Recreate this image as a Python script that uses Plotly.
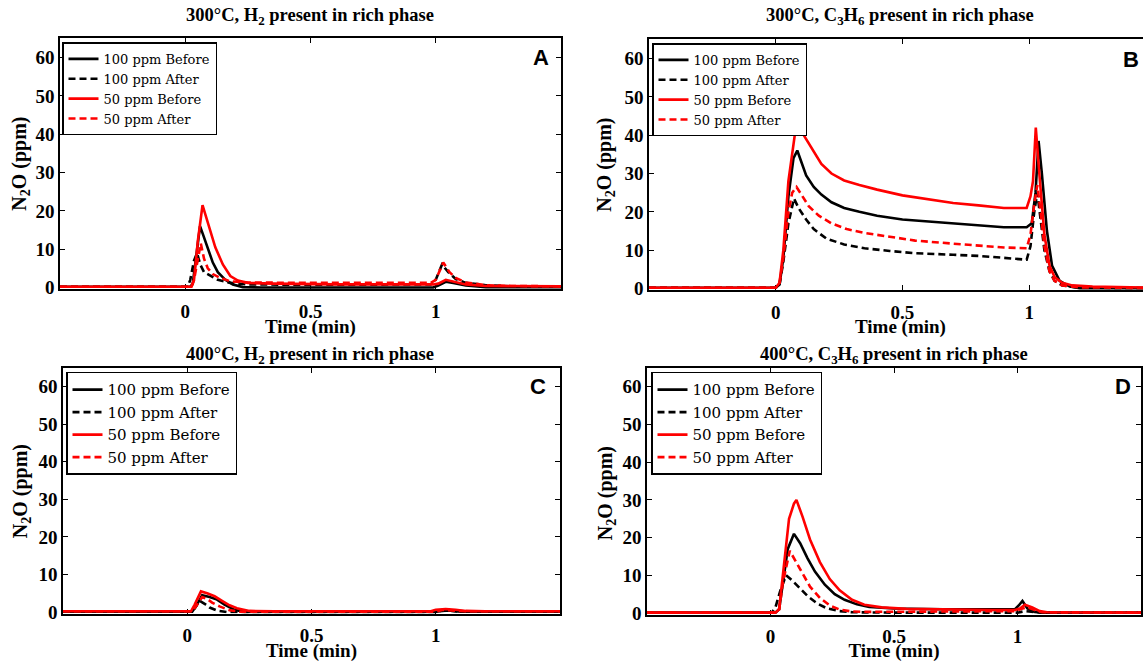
import plotly.graph_objects as go

# ---------------- Data ----------------
# Panel A: 300°C, H2 present in rich phase
tA_100b = [-0.5, 0.02, 0.03, 0.045, 0.059, 0.07, 0.09, 0.11, 0.13, 0.16, 0.19, 0.23, 0.3, 0.6, 0.99, 1.01, 1.04, 1.07, 1.12, 1.2, 1.5]
vA_100b = [0.2, 0.2, 1.0, 9.0, 16.0, 14.0, 10.0, 6.5, 4.0, 2.0, 0.8, 0.1, 0.0, 0.0, 0.0, 0.5, 1.5, 1.2, 0.5, 0.1, 0.1]
tA_100a = [-0.5, 0.01, 0.02, 0.035, 0.047, 0.06, 0.075, 0.1, 0.13, 0.18, 0.25, 0.5, 0.8, 0.98, 1.0, 1.025, 1.05, 1.08, 1.12, 1.2, 1.3, 1.5]
vA_100a = [0.2, 0.2, 2.0, 7.0, 9.0, 6.0, 4.0, 3.0, 2.0, 1.2, 0.8, 0.7, 0.7, 0.8, 2.0, 6.0, 4.0, 2.2, 1.2, 0.6, 0.3, 0.2]
tA_50b = [-0.5, 0.025, 0.035, 0.05, 0.069, 0.085, 0.1, 0.12, 0.15, 0.18, 0.21, 0.25, 0.35, 0.6, 0.99, 1.01, 1.04, 1.07, 1.12, 1.2, 1.5]
vA_50b = [0.2, 0.2, 2.0, 12.0, 21.5, 18.0, 15.0, 10.5, 6.0, 3.0, 1.8, 1.2, 1.0, 0.8, 0.8, 1.0, 2.0, 1.6, 0.8, 0.4, 0.3]
tA_50a = [-0.5, 0.025, 0.035, 0.048, 0.062, 0.075, 0.09, 0.11, 0.14, 0.18, 0.25, 0.5, 0.8, 0.98, 1.0, 1.03, 1.055, 1.08, 1.12, 1.2, 1.3, 1.5]
vA_50a = [0.2, 0.2, 2.0, 7.0, 11.5, 7.5, 5.0, 3.5, 2.5, 1.6, 1.3, 1.2, 1.2, 1.2, 2.0, 6.5, 4.0, 2.5, 1.3, 0.6, 0.4, 0.3]

# Panel B: 300°C, C3H6 present in rich phase
tB_100b = [-0.5, 0.0, 0.015, 0.03, 0.05, 0.07, 0.085, 0.1, 0.12, 0.15, 0.18, 0.22, 0.27, 0.33, 0.4, 0.5, 0.6, 0.7, 0.8, 0.9, 0.99, 1.01, 1.025, 1.037, 1.05, 1.07, 1.09, 1.12, 1.16, 1.2, 1.5]
vB_100b = [0.2, 0.2, 1.0, 8.0, 24.0, 34.0, 36.0, 33.0, 29.5, 26.5, 24.5, 22.5, 21.0, 20.0, 19.0, 18.0, 17.5, 17.0, 16.5, 16.0, 16.0, 17.0, 25.0, 38.5, 30.0, 15.0, 6.0, 2.0, 0.5, 0.1, 0.1]
tB_100a = [-0.5, 0.0, 0.015, 0.03, 0.05, 0.072, 0.09, 0.12, 0.15, 0.2, 0.27, 0.35, 0.45, 0.55, 0.7, 0.8, 0.9, 0.99, 1.005, 1.02, 1.032, 1.045, 1.06, 1.08, 1.1, 1.13, 1.2, 1.5]
vB_100a = [0.2, 0.2, 1.0, 7.0, 17.0, 23.5, 21.0, 18.0, 15.5, 13.0, 11.5, 10.5, 9.8, 9.2, 8.8, 8.5, 8.0, 7.5, 11.0, 20.0, 25.0, 18.0, 10.0, 4.5, 2.0, 0.8, 0.2, 0.1]
tB_50b = [-0.5, 0.0, 0.015, 0.03, 0.05, 0.075, 0.097, 0.12, 0.15, 0.18, 0.22, 0.27, 0.33, 0.4, 0.5, 0.6, 0.7, 0.8, 0.9, 0.99, 1.005, 1.015, 1.026, 1.04, 1.06, 1.08, 1.1, 1.13, 1.17, 1.25, 1.35, 1.5]
vB_50b = [0.2, 0.2, 1.5, 10.0, 28.0, 40.0, 41.5, 39.0, 35.5, 32.5, 30.0, 28.2, 27.0, 25.8, 24.3, 23.3, 22.3, 21.7, 21.0, 21.0, 24.0, 28.0, 42.0, 30.0, 14.0, 6.0, 3.0, 1.5, 0.8, 0.5, 0.3, 0.2]
tB_50a = [-0.5, 0.0, 0.015, 0.03, 0.05, 0.065, 0.082, 0.1, 0.13, 0.17, 0.22, 0.28, 0.35, 0.45, 0.55, 0.7, 0.8, 0.9, 0.99, 1.005, 1.02, 1.032, 1.045, 1.06, 1.08, 1.1, 1.13, 1.2, 1.5]
vB_50a = [0.2, 0.2, 1.5, 8.0, 20.0, 25.0, 26.5, 24.5, 21.5, 19.0, 17.0, 15.5, 14.5, 13.5, 12.5, 11.7, 11.2, 10.7, 10.5, 14.0, 22.0, 27.0, 20.0, 11.0, 4.5, 2.0, 0.8, 0.3, 0.1]

# Panel C: 400°C, H2 present in rich phase
tC_100b = [-0.5, 0.02, 0.035, 0.06, 0.09, 0.12, 0.15, 0.19, 0.23, 0.5, 1.0, 1.02, 1.05, 1.1, 1.5]
vC_100b = [0.1, 0.1, 1.5, 4.5, 4.0, 3.3, 2.0, 0.6, 0.0, 0.0, 0.0, 0.3, 0.4, 0.1, 0.1]
tC_100a = [-0.5, 0.02, 0.035, 0.05, 0.07, 0.09, 0.12, 0.16, 0.5, 1.0, 1.02, 1.05, 1.1, 1.5]
vC_100a = [0.1, 0.1, 1.5, 3.0, 2.2, 1.2, 0.4, 0.0, 0.0, 0.0, 0.3, 0.4, 0.1, 0.1]
tC_50b = [-0.5, 0.015, 0.03, 0.055, 0.08, 0.11, 0.14, 0.17, 0.2, 0.25, 0.35, 0.7, 0.98, 1.0, 1.04, 1.08, 1.12, 1.2, 1.5]
vC_50b = [0.2, 0.2, 2.0, 5.5, 5.0, 4.2, 3.0, 1.8, 1.0, 0.3, 0.2, 0.2, 0.2, 0.6, 0.8, 0.6, 0.3, 0.2, 0.2]
tC_50a = [-0.5, 0.02, 0.035, 0.06, 0.08, 0.1, 0.13, 0.17, 0.21, 0.5, 1.0, 1.03, 1.06, 1.12, 1.5]
vC_50a = [0.2, 0.2, 1.5, 4.0, 3.5, 2.5, 1.5, 0.5, 0.1, 0.1, 0.1, 0.6, 0.5, 0.2, 0.2]

# Panel D: 400°C, C3H6 present in rich phase
tD_100b = [-0.5, 0.02, 0.035, 0.05, 0.07, 0.095, 0.12, 0.15, 0.18, 0.22, 0.26, 0.3, 0.35, 0.4, 0.5, 0.7, 0.9, 0.99, 1.005, 1.02, 1.04, 1.07, 1.1, 1.5]
vD_100b = [0.1, 0.1, 1.0, 8.0, 17.0, 21.0, 18.5, 14.5, 11.0, 7.5, 5.0, 3.5, 2.3, 1.6, 1.2, 1.0, 1.0, 1.0, 2.0, 3.2, 1.2, 0.3, 0.1, 0.1]
tD_100a = [-0.5, 0.005, 0.02, 0.04, 0.063, 0.09, 0.12, 0.15, 0.19, 0.23, 0.28, 0.33, 0.5, 0.8, 1.0, 1.03, 1.06, 1.1, 1.5]
vD_100a = [0.1, 0.1, 1.5, 6.0, 10.0, 8.5, 6.5, 4.5, 2.5, 1.2, 0.5, 0.2, 0.1, 0.1, 0.1, 0.5, 0.3, 0.1, 0.1]
tD_50b = [-0.5, 0.02, 0.035, 0.05, 0.075, 0.095, 0.105, 0.13, 0.16, 0.2, 0.24, 0.28, 0.33, 0.38, 0.45, 0.55, 0.7, 0.9, 0.99, 1.01, 1.03, 1.06, 1.09, 1.12, 1.5]
vD_50b = [0.1, 0.1, 1.0, 10.0, 25.0, 29.0, 30.0, 25.5, 19.5, 13.5, 9.0, 6.0, 3.5, 2.2, 1.5, 1.1, 0.9, 0.8, 0.8, 1.2, 2.2, 1.5, 0.5, 0.2, 0.1]
tD_50a = [-0.5, 0.02, 0.035, 0.05, 0.078, 0.1, 0.13, 0.16, 0.2, 0.24, 0.28, 0.33, 0.4, 0.6, 0.9, 0.99, 1.02, 1.04, 1.07, 1.1, 1.5]
vD_50a = [0.1, 0.1, 1.0, 8.0, 16.5, 14.0, 10.5, 7.0, 4.0, 2.0, 0.9, 0.4, 0.3, 0.4, 0.5, 0.5, 1.2, 1.5, 0.8, 0.2, 0.1]

series_names = ["100 ppm Before", "100 ppm After", "50 ppm Before", "50 ppm After"]
series_colors = ["black", "black", "#ff0000", "#ff0000"]
series_dash = ["solid", "7px,4px", "solid", "7px,4px"]

panel_titles = [
    "300°C, H<sub>2</sub> present in rich phase",
    "300°C, C<sub>3</sub>H<sub>6</sub> present in rich phase",
    "400°C, H<sub>2</sub> present in rich phase",
    "400°C, C<sub>3</sub>H<sub>6</sub> present in rich phase",
]
panel_letters = ["A", "B", "C", "D"]
x_tickvals = [0, 0.5, 1]
x_ticktext = ["0", "0.5", "1"]
y_tickvals = [0, 10, 20, 30, 40, 50, 60]
y_ticktext = ["0", "10", "20", "30", "40", "50", "60"]
x_title = "Time (min)"
y_title = "N<sub>2</sub>O (ppm)"

panel_data = [
    [(tA_100b, vA_100b), (tA_100a, vA_100a), (tA_50b, vA_50b), (tA_50a, vA_50a)],
    [(tB_100b, vB_100b), (tB_100a, vB_100a), (tB_50b, vB_50b), (tB_50a, vB_50a)],
    [(tC_100b, vC_100b), (tC_100a, vC_100a), (tC_50b, vC_50b), (tC_50a, vC_50a)],
    [(tD_100b, vD_100b), (tD_100a, vD_100a), (tD_50b, vD_50b), (tD_50a, vD_50a)],
]

# ---------------- Layout geometry (pixels) ----------------
W, H = 1143, 662
# left, right, top, bottom in pixels
boxes = [(60, 561, 39, 293), (649, 1143, 40, 294), (63, 560, 373, 622), (647, 1141, 373, 623)]
x_ranges = [[-0.5, 1.5], [-0.5, 1.449], [-0.5, 1.5], [-0.5, 1.5]]
y_range = [-0.4, 65]
legend_pos = [(62, 43), (652, 44), (66, 377), (651, 377)]
legend_font = [13, 13, 15, 15]
xtick_standoff = [4, 4, 4, 4]
title_pos = [(310, 17), (900, 17), (310, 360), (894, 360)]
letter_pos = [(541, 58), (1131, 60), (538, 392), (1123, 392)]
ytitle_pos = [(21, 166), (606, 167), (21, 498), (606, 500)]
xtitle_pos = [(310, 331), (900, 331), None, None]   # bottom row uses axis titles
xtitle_standoff = [0, 0, 0, 0]

serif = "Liberation Serif"
legend_family = "DejaVu Serif"
fig = go.Figure()
layout = dict(width=W, height=H, margin=dict(l=0, r=0, t=0, b=0),
              paper_bgcolor="white", plot_bgcolor="white", showlegend=True)
annotations = []

def px(x):
    return x / W

def py(y):
    return 1 - y / H

for i in range(4):
    sfx = "" if i == 0 else str(i + 1)
    lg = "legend" if i == 0 else "legend" + str(i + 1)
    for j in range(4):
        t, v = panel_data[i][j]
        fig.add_trace(go.Scatter(
            x=t, y=v, mode="lines", name=series_names[j],
            line=dict(color=series_colors[j], width=2.6, dash=series_dash[j]),
            xaxis="x" + sfx, yaxis="y" + sfx, legend=lg, hoverinfo="skip"))
    l, r, tp, b = boxes[i]
    xa = dict(
        domain=[px(l), px(r)], range=x_ranges[i], anchor="y" + sfx,
        showline=True, linecolor="black", linewidth=1.5, mirror="ticks",
        ticks="inside", ticklen=5, tickwidth=1.2, tickcolor="black",
        tickvals=x_tickvals, ticktext=x_ticktext, showgrid=False, zeroline=False,
        ticklabelstandoff=xtick_standoff[i],
        tickfont=dict(family=serif, size=19, color="black", weight="bold"),
        layer="below traces")
    if xtitle_pos[i] is None:
        xa["title"] = dict(text="<b>" + x_title + "</b>", standoff=xtitle_standoff[i],
                           font=dict(family=serif, size=19, color="black"))
    layout["xaxis" + sfx] = xa
    layout["yaxis" + sfx] = dict(
        domain=[py(b), py(tp)], range=y_range, anchor="x" + sfx,
        showline=True, linecolor="black", linewidth=1.5,
        mirror=(False if i == 1 else "ticks"),
        ticks="inside", ticklen=5, tickwidth=1.2, tickcolor="black",
        tickvals=y_tickvals, ticktext=y_ticktext, showgrid=False, zeroline=False,
        tickfont=dict(family=serif, size=19, color="black", weight="bold"),
        layer="below traces")
    lx, ly = legend_pos[i]
    layout[lg] = dict(
        x=px(lx), y=py(ly), xanchor="left", yanchor="top", xref="paper", yref="paper",
        bgcolor="white", bordercolor="black", borderwidth=1.5,
        font=dict(family=legend_family, size=legend_font[i], color="black"),
        tracegroupgap=0, itemwidth=30)
    tx, ty = title_pos[i]
    annotations.append(dict(text="<b>" + panel_titles[i] + "</b>", x=px(tx), y=py(ty),
                            xref="paper", yref="paper", showarrow=False,
                            xanchor="center", yanchor="middle",
                            font=dict(family=serif, size=18.5, color="black")))
    ax_, ay_ = letter_pos[i]
    annotations.append(dict(text="<b>" + panel_letters[i] + "</b>", x=px(ax_), y=py(ay_),
                            xref="paper", yref="paper", showarrow=False,
                            xanchor="center", yanchor="middle",
                            font=dict(family="Liberation Sans", size=22, color="black")))
    yx, yy = ytitle_pos[i]
    annotations.append(dict(text="<b>" + y_title + "</b>", x=px(yx), y=py(yy),
                            xref="paper", yref="paper", showarrow=False, textangle=-90,
                            xanchor="center", yanchor="middle",
                            font=dict(family=serif, size=20, color="black")))
    if xtitle_pos[i] is not None:
        xx, xy = xtitle_pos[i]
        annotations.append(dict(text="<b>" + x_title + "</b>", x=px(xx), y=py(xy),
                                xref="paper", yref="paper", showarrow=False,
                                xanchor="center", yanchor="middle",
                                font=dict(family=serif, size=19, color="black")))

layout["annotations"] = annotations
fig.update_layout(**layout)
fig.write_html("out.html", config={"displayModeBar": False},
               post_script="document.body.style.margin='0px';")
